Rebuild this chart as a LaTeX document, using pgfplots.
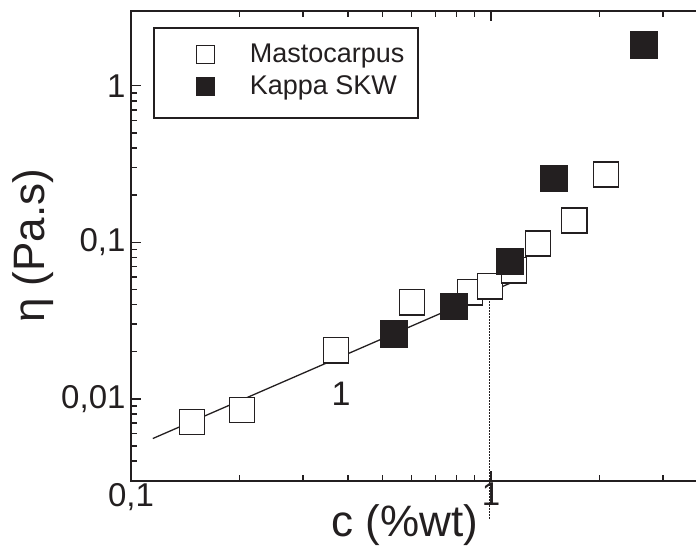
\documentclass[border=0pt]{standalone}
\usepackage{pgfplots}
\pgfplotsset{compat=1.18}
\usepackage{fontspec}
\setmainfont{Liberation Sans}
\definecolor{ink}{RGB}{35,31,32}
\begin{document}
\begin{tikzpicture}
\begin{axis}[
  name=ax,
  scale only axis,
  width=577pt, height=469.7pt,
  xmode=log, ymode=log,
  xmin=0.1, xmax=4, ymin=0.003, ymax=3,
  clip=false,
  axis line style={line width=2pt, ink},
  every tick/.style={line width=1.5pt, ink},
  major tick length=10pt, minor tick length=6pt,
  log ticks with fixed point,
  /pgf/number format/use comma,
  /pgf/number format/1000 sep={},
  /pgf/number format/assume math mode=true,
  tick label style={font=\fontsize{33}{38}\selectfont, text=ink},
  yticklabel style={xshift=-2pt},
  xticklabel style={yshift=1pt},
  xlabel={c (\%wt)}, ylabel={η (Pa.s)},
  every axis x label/.style={at={(axis description cs:0.475,-0.0943)}, anchor=center, font=\fontsize{44}{50}\selectfont, text=ink},
  every axis y label/.style={at={(axis description cs:-0.170,0.5)}, rotate=90, anchor=center, font=\fontsize{44}{50}\selectfont, text=ink},
  legend style={at={(axis description cs:0,1)}, anchor=north west, xshift=22pt, yshift=-16pt,
    draw=ink, line width=1.6pt, inner xsep=8pt, inner ysep=13pt, row sep=0pt,
    font=\fontsize{27}{32}\selectfont, text=ink, nodes={inner sep=0pt}},
  legend cell align=left,
  legend image code/.code={\path[draw=none,fill=none] (0pt,-18.5pt) rectangle (88pt,13.5pt); \draw[#1, mark size=9pt] plot coordinates {(44pt,0pt)};},
]
\addplot[only marks, mark=square*, mark size=12.6pt, mark options={draw=ink, fill=white, line width=1.4pt}] coordinates {
(0.1477,0.00710) (0.2034,0.00847) (0.3710,0.02044) (0.6034,0.04135) (0.8743,0.04789)
(0.9936,0.05232) (1.1586,0.06613) (1.3508,0.09833) (1.7008,0.1378) (2.0865,0.2708)};
\addlegendentry{Mastocarpus\hspace*{5.7pt}}
\addplot[ink, line width=1.3pt, forget plot] coordinates {(0.115,0.00558) (1.15,0.0558)};
\addplot[ink, line width=1.4pt, dash pattern=on 1.4pt off 1.6pt, forget plot] coordinates {(0.989,0.0479) (0.989,0.00169)};
\addplot[only marks, mark=square*, mark size=13.3pt, mark options={draw=ink, fill=ink, line width=1pt}] coordinates {
(0.5378,0.02586) (0.7893,0.03899) (1.1293,0.07548) (1.4962,0.2553) (2.6607,1.826)};
\addlegendentry{Kappa SKW}
\node[font=\fontsize{34}{40}\selectfont, text=ink] at (axis cs:0.383,0.0107) {1};
\end{axis}
\pgfresetboundingbox
\useasboundingbox ([xshift=-131pt,yshift=-68.3pt]ax.south west) rectangle ([xshift=-12pt,yshift=11pt]ax.north east);
\end{tikzpicture}
\end{document}
